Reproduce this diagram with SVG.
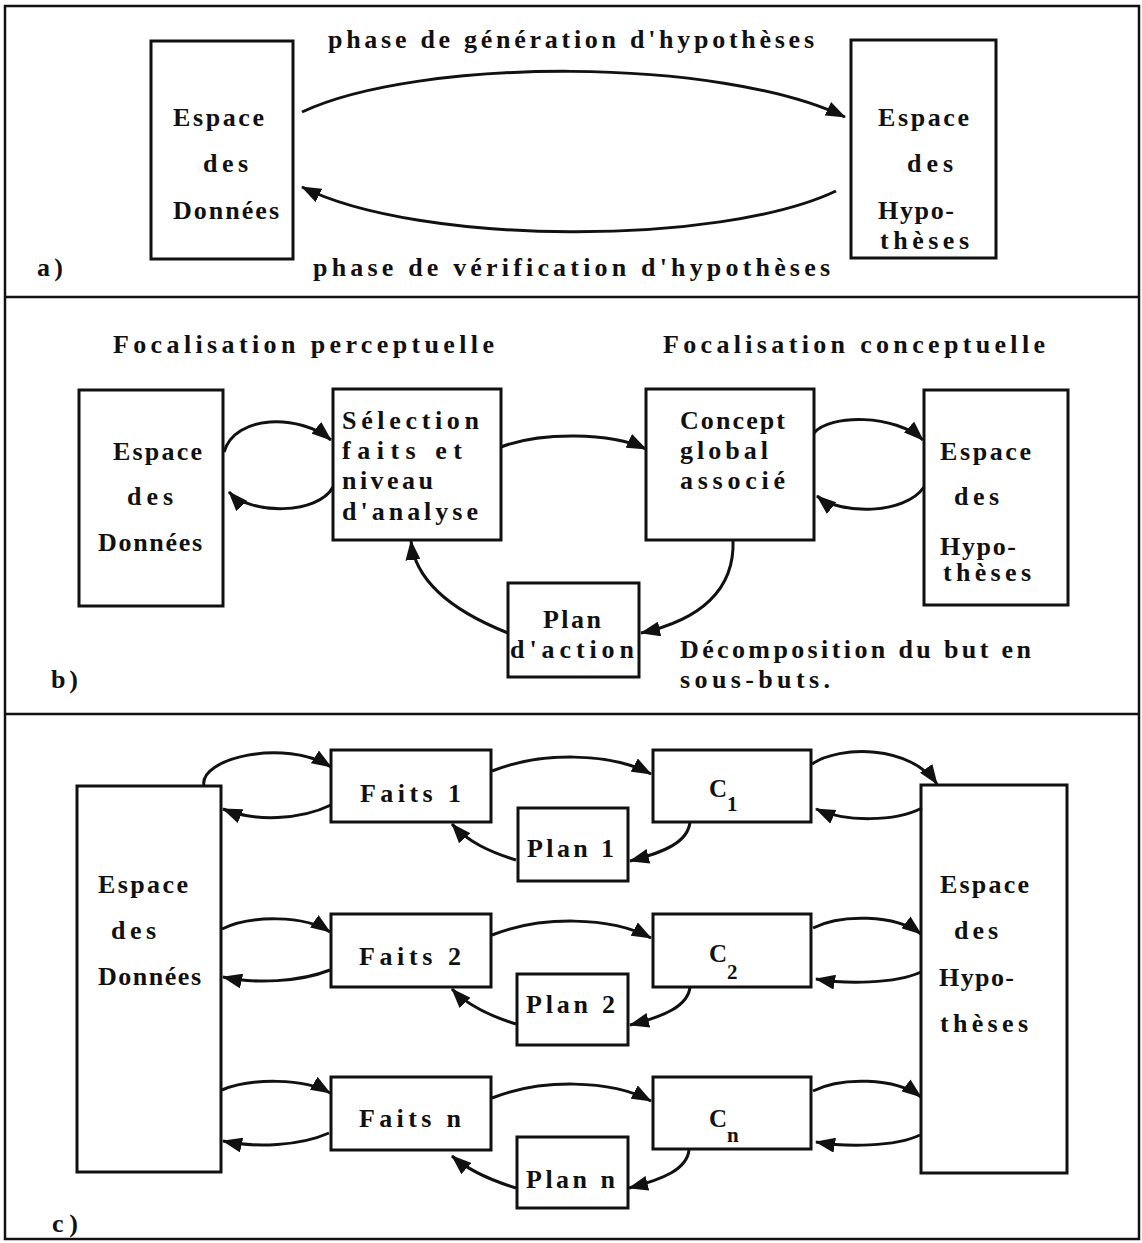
<svg xmlns="http://www.w3.org/2000/svg" width="1142" height="1243" viewBox="0 0 1142 1243">
<defs>
<style>
.box{fill:#fff;stroke:#111;stroke-width:3}
.frame{fill:none;stroke:#111;stroke-width:2.5}
.con{fill:none;stroke:#111;stroke-width:3;marker-end:url(#ah)}
text{font-family:"Liberation Serif","DejaVu Serif",serif;font-size:26px;font-weight:bold;fill:#111}
.c text{font-size:26px}
.c text.cc{font-size:25px}
.sub{font-size:21px}
</style>
<marker id="ah" markerUnits="userSpaceOnUse" viewBox="0 0 20 15" refX="19" refY="7.5" markerWidth="20" markerHeight="15" orient="auto">
<path d="M0,0 L20,7.5 L0,15 z" fill="#111"/>
</marker>
</defs>
<rect width="1142" height="1243" fill="#fff"/>
<g id="frame">
<rect class="frame" x="5" y="6" width="1134" height="1233"/>
<line class="frame" x1="5" y1="297" x2="1139" y2="297"/>
<line class="frame" x1="5" y1="714" x2="1139" y2="714"/>
</g>

<!-- Panel a -->
<g id="panel-a-labels">
<text x="328" y="48" textLength="486" lengthAdjust="spacing">phase de génération d'hypothèses</text>
<text x="313" y="276" textLength="517" lengthAdjust="spacing">phase de vérification d'hypothèses</text>
<text x="37" y="276" textLength="26" lengthAdjust="spacing">a)</text>
</g>
<g id="a-donnees">
<rect class="box" x="151" y="41" width="142" height="218"/>
<text x="173" y="126" textLength="91" lengthAdjust="spacing">Espace</text>
<text x="203" y="172" textLength="45" lengthAdjust="spacing">des</text>
<text x="173" y="219" textLength="106" lengthAdjust="spacing">Données</text>
</g>
<g id="a-hypotheses">
<rect class="box" x="851" y="40" width="145" height="218"/>
<text x="878" y="126" textLength="91" lengthAdjust="spacing">Espace</text>
<text x="907" y="172" textLength="46" lengthAdjust="spacing">des</text>
<text x="878" y="219" textLength="76" lengthAdjust="spacing">Hypo-</text>
<text x="880" y="249" textLength="89" lengthAdjust="spacing">thèses</text>
</g>
<g id="a-connectors">
<path class="con" d="M302,112 C420,57 720,57 845,117"/>
<path class="con" d="M836,191 C720,246 420,246 302,187"/>
</g>

<!-- Panel b -->
<g id="panel-b-labels">
<text x="113" y="353" textLength="381" lengthAdjust="spacing">Focalisation perceptuelle</text>
<text x="663" y="353" textLength="382" lengthAdjust="spacing">Focalisation conceptuelle</text>
<text x="680" y="658" textLength="351" lengthAdjust="spacing">Décomposition du but en</text>
<text x="680" y="688" textLength="150" lengthAdjust="spacing">sous-buts.</text>
<text x="51" y="688" textLength="27" lengthAdjust="spacing">b)</text>
</g>
<g id="b-donnees">
<rect class="box" x="79" y="390" width="144" height="216"/>
<text x="113" y="460" textLength="89" lengthAdjust="spacing">Espace</text>
<text x="127" y="505" textLength="46" lengthAdjust="spacing">des</text>
<text x="98" y="551" textLength="104" lengthAdjust="spacing">Données</text>
</g>
<g id="b-selection">
<rect class="box" x="333" y="389" width="168" height="151"/>
<text x="342" y="429" textLength="137" lengthAdjust="spacing">Sélection</text>
<text x="342" y="459" textLength="120" lengthAdjust="spacing">faits et</text>
<text x="342" y="489" textLength="91" lengthAdjust="spacing">niveau</text>
<text x="342" y="520" textLength="136" lengthAdjust="spacing">d'analyse</text>
</g>
<g id="b-concept">
<rect class="box" x="646" y="389" width="168" height="151"/>
<text x="680" y="429" textLength="105" lengthAdjust="spacing">Concept</text>
<text x="680" y="459" textLength="88" lengthAdjust="spacing">global</text>
<text x="680" y="489" textLength="105" lengthAdjust="spacing">associé</text>
</g>
<g id="b-hypotheses">
<rect class="box" x="924" y="390" width="144" height="215"/>
<text x="940" y="460" textLength="91" lengthAdjust="spacing">Espace</text>
<text x="954" y="505" textLength="45" lengthAdjust="spacing">des</text>
<text x="940" y="555" textLength="76" lengthAdjust="spacing">Hypo-</text>
<text x="943" y="581" textLength="88" lengthAdjust="spacing">thèses</text>
</g>
<g id="b-plan">
<rect class="box" x="508" y="583" width="131" height="94"/>
<text x="543" y="628" textLength="58" lengthAdjust="spacing">Plan</text>
<text x="510" y="658" textLength="124" lengthAdjust="spacing">d'action</text>
</g>
<g id="b-connectors">
<path class="con" d="M224,452 C235,414 300,414 331,440"/>
<path class="con" d="M333,487 C318,515 250,515 229,492"/>
<path class="con" d="M501,447 C540,432 610,432 646,449"/>
<path class="con" d="M814,433 C830,414 895,414 923,440"/>
<path class="con" d="M924,487 C905,515 840,515 817,496"/>
<path class="con" d="M733,540 C735,590 700,620 641,633"/>
<path class="con" d="M508,633 C450,610 415,580 411,541"/>
</g>

<!-- Panel c -->
<g class="c">
<text x="52" y="1232" textLength="26" lengthAdjust="spacing">c)</text>
<g id="c-donnees">
<rect class="box" x="77" y="786" width="144" height="386"/>
<text x="98" y="893" textLength="90" lengthAdjust="spacing">Espace</text>
<text x="111" y="939" textLength="45" lengthAdjust="spacing">des</text>
<text x="98" y="985" textLength="103" lengthAdjust="spacing">Données</text>
</g>
<g id="c-faits1">
<rect class="box" x="331" y="750" width="160" height="72"/>
<text x="360" y="802" textLength="101" lengthAdjust="spacing">Faits 1</text>
</g>
<g id="c-faits2">
<rect class="box" x="331" y="914" width="160" height="73"/>
<text x="359" y="965" textLength="102" lengthAdjust="spacing">Faits 2</text>
</g>
<g id="c-faitsn">
<rect class="box" x="331" y="1077" width="160" height="73"/>
<text x="359" y="1127" textLength="102" lengthAdjust="spacing">Faits n</text>
</g>
<g id="c-plan1">
<rect class="box" x="518" y="808" width="110" height="73"/>
<text x="527" y="857" textLength="87" lengthAdjust="spacing">Plan 1</text>
</g>
<g id="c-plan2">
<rect class="box" x="517" y="974" width="111" height="71"/>
<text x="526" y="1013" textLength="89" lengthAdjust="spacing">Plan 2</text>
</g>
<g id="c-plann">
<rect class="box" x="517" y="1137" width="111" height="71"/>
<text x="526" y="1188" textLength="89" lengthAdjust="spacing">Plan n</text>
</g>
<g id="c-c1">
<rect class="box" x="653" y="750" width="158" height="72"/>
<text class="cc" x="709" y="797">C<tspan class="sub" x="727" y="811">1</tspan></text>
</g>
<g id="c-c2">
<rect class="box" x="653" y="914" width="158" height="73"/>
<text class="cc" x="709" y="962">C<tspan class="sub" x="727" y="979">2</tspan></text>
</g>
<g id="c-cn">
<rect class="box" x="653" y="1077" width="158" height="72"/>
<text class="cc" x="709" y="1127">C<tspan class="sub" x="727" y="1142">n</tspan></text>
</g>
<g id="c-hypotheses">
<rect class="box" x="921" y="785" width="146" height="388"/>
<text x="940" y="893" textLength="89" lengthAdjust="spacing">Espace</text>
<text x="954" y="939" textLength="44" lengthAdjust="spacing">des</text>
<text x="939" y="986" textLength="75" lengthAdjust="spacing">Hypo-</text>
<text x="940" y="1032" textLength="88" lengthAdjust="spacing">thèses</text>
</g>
</g>
<g id="c-connectors">
<path class="con" d="M204,786 C198,758 285,738 331,767"/>
<path class="con" d="M331,805 C300,820 255,822 223,809"/>
<path class="con" d="M492,771 C540,752 610,752 651,774"/>
<path class="con" d="M812,764 C840,745 910,745 937,784"/>
<path class="con" d="M922,808 C895,822 845,822 816,809"/>
<path class="con" d="M690,822 C688,842 665,852 630,861"/>
<path class="con" d="M516,860 C490,852 468,842 452,824"/>

<path class="con" d="M222,929 C250,915 305,915 330,932"/>
<path class="con" d="M330,970 C300,982 255,984 223,977"/>
<path class="con" d="M492,935 C540,916 610,916 651,938"/>
<path class="con" d="M813,928 C840,914 895,914 921,934"/>
<path class="con" d="M921,972 C895,984 845,984 816,979"/>
<path class="con" d="M690,987 C688,1006 665,1016 630,1025"/>
<path class="con" d="M516,1024 C490,1016 468,1006 452,989"/>

<path class="con" d="M222,1090 C250,1078 305,1078 330,1093"/>
<path class="con" d="M329,1133 C300,1146 255,1148 223,1141"/>
<path class="con" d="M492,1098 C540,1079 610,1079 651,1101"/>
<path class="con" d="M813,1091 C840,1077 895,1077 921,1097"/>
<path class="con" d="M920,1135 C895,1147 845,1147 816,1142"/>
<path class="con" d="M689,1150 C687,1169 664,1179 629,1188"/>
<path class="con" d="M516,1188 C490,1180 468,1170 452,1156"/>
</g>
</svg>
